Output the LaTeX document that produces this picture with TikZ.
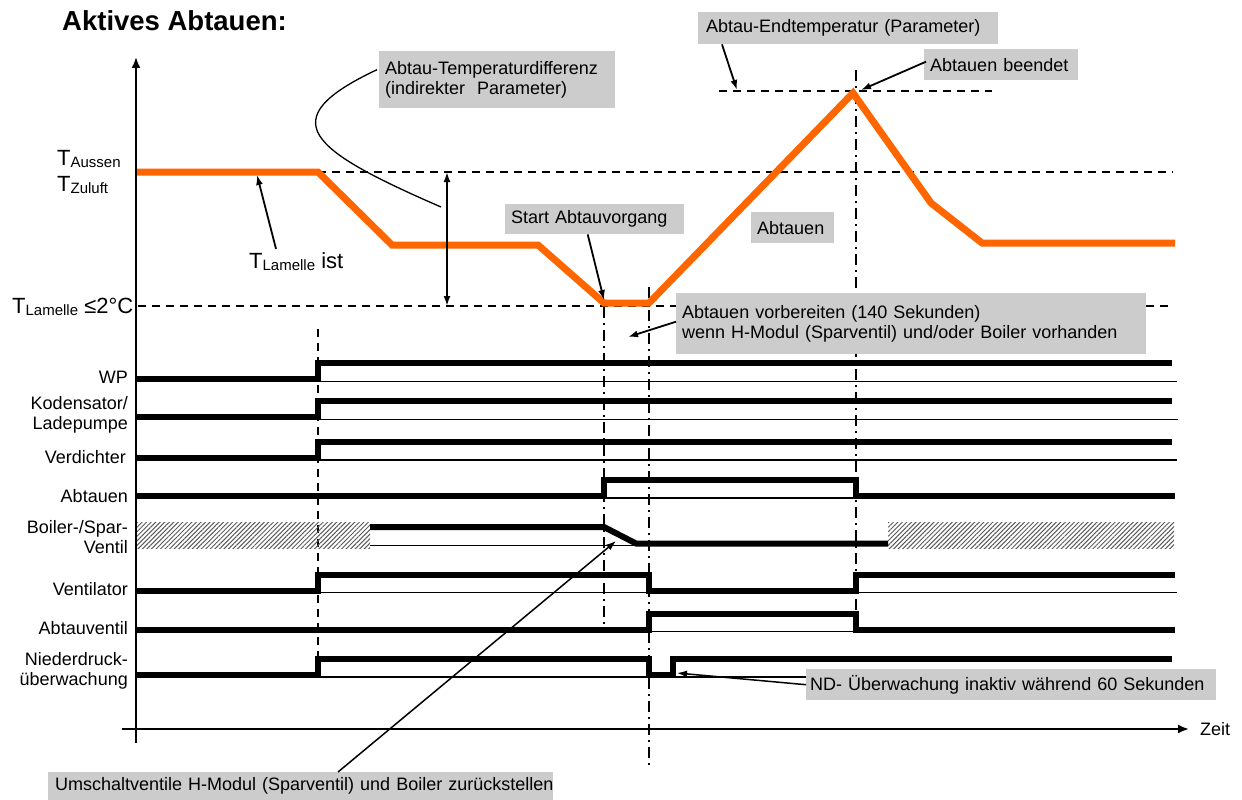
\documentclass[tikz,border=0pt]{standalone}
\usepackage{fontspec}
\setmainfont{Liberation Sans}
\usetikzlibrary{arrows.meta,patterns.meta,calc}
\definecolor{boxgray}{RGB}{204,204,204}
\definecolor{curveorange}{RGB}{255,102,0}
\definecolor{hatchgray}{RGB}{90,90,90}
% lowered, smaller index text (T_Aussen etc.)
\newcommand{\lowtxt}[1]{\raisebox{-2pt}{\fontsize{15}{15}\selectfont #1}}
% one unbroken line inside a fixed-width box
\newcommand{\oneline}[1]{\makebox[\linewidth][l]{#1}}
\begin{document}
\begin{tikzpicture}[x=1pt,y=-1pt,
  lbl/.style={font=\fontsize{18}{20.5}\selectfont, inner sep=0pt},
  tlbl/.style={font=\fontsize{22}{24}\selectfont, inner sep=0pt},
  graybox/.style={fill=boxgray, font=\fontsize{18}{20.5}\selectfont, anchor=north west,
    inner xsep=6pt, inner ysep=0pt, align=left},
  axis/.style={line width=2pt},
  guide/.style={line width=2pt, dash pattern=on 8pt off 6pt},
  guidethin/.style={line width=1.5pt, dash pattern=on 8pt off 6pt},
  dashdot/.style={line width=2pt, dash pattern=on 11pt off 5pt on 2pt off 5pt},
  curve/.style={line width=7pt, curveorange},
  sig/.style={line width=6pt, line join=miter},
  sigthin/.style={line width=1.2pt},
  hatch/.style={pattern={Lines[angle=45,distance=3.2pt,line width=1pt]}, pattern color=hatchgray},
  arr/.style={line width=1.8pt, -{Latex[length=10pt,width=7pt]}},
  leader/.style={line width=1.3pt}
]
\useasboundingbox (0,0) rectangle (1242,800);

% title
\node[anchor=base west, inner sep=0pt, font=\bfseries\fontsize{27.5}{30}\selectfont] (title) at (62,31) {Aktives Abtauen:};

% axes
\draw[axis, -{Latex[length=11pt,width=9pt]}] (136,743) -- (136,57);
\draw[axis, -{Latex[length=11pt,width=9pt]}] (122,729) -- (1189,729);
\node[lbl, anchor=base west] (zeit) at (1200,735) {Zeit};

% temperature levels
\draw[guide] (318,172) -- (1173,172);
\draw[guide] (138,306) -- (1173,306);
\draw[guide] (719,91) -- (992,91);

% time markers
\draw[guidethin] (318,329) -- (318,656);
\draw[dashdot] (604,307) -- (604,628);
\draw[dashdot] (649,287) -- (649,766);
\draw[dashdot] (856,70) -- (856,630);

% fin temperature
\draw[curve] (137,172) -- (318,172) -- (392,245) -- (538,245) -- (604,303) -- (649,303)
  -- (853,93) -- (931,203) -- (982,243) -- (1175,243);

% temperature labels
\node[tlbl, anchor=base west] (taussen) at (57,165) {T\lowtxt{Aussen}};
\node[tlbl, anchor=base west] (tzuluft) at (57,191) {T\lowtxt{Zuluft}};
\node[tlbl, anchor=base west] (tlamgr) at (12,313) {T\lowtxt{Lamelle} ≤2°C};
\node[tlbl, anchor=base west] (tlamist) at (249,268) {T\lowtxt{Lamelle} ist};

% signal labels
\node[lbl, anchor=base east] (wp) at (128,383) {WP};
\node[lbl, anchor=east, align=right] (lade) at (128,415) {Kodensator/\\Ladepumpe};
\node[lbl, anchor=base east] (verd) at (126,463) {Verdichter};
\node[lbl, anchor=base east] (abt) at (128,502) {Abtauen};
\node[lbl, anchor=east, align=right] (boiler) at (128,537) {Boiler-/Spar-\\Ventil};
\node[lbl, anchor=base east] (vent) at (128,595) {Ventilator};
\node[lbl, anchor=base east] (abtv) at (128,634) {Abtauventil};
\node[lbl, anchor=east, align=right] (nd) at (128,671) {Niederdruck-\\überwachung};

% signal traces
\draw[sigthin] (318,381.5) -- (1177,381.5);
\draw[sig] (137,379) -- (318,379) -- (318,363) -- (1172,363);
\draw[sigthin] (318,419.5) -- (1178,419.5);
\draw[sig] (137,417) -- (318,417) -- (318,401) -- (1172,401);
\draw[sigthin] (318,460) -- (1177,460);
\draw[sig] (137,458) -- (318,458) -- (318,442) -- (1172,442);
\draw[sigthin] (604,498) -- (856,498);
\draw[sig] (137,496) -- (604,496) -- (604,480) -- (856,480) -- (856,496) -- (1175,496);
\fill[hatch] (137,522) rectangle (370,548);
\fill[hatch] (888,522) rectangle (1174,548);
\draw[sigthin] (370,545.5) -- (888,545.5);
\draw[sig] (370,527) -- (604,527) -- (636,543.5) -- (888,543.5);
\draw[sigthin] (318,592.5) -- (1177,592.5);
\draw[sig] (137,590.5) -- (318,590.5) -- (318,574.5) -- (649,574.5) -- (649,590.5)
  -- (856,590.5) -- (856,574.5) -- (1175,574.5);
\draw[sigthin] (649,631.5) -- (856,631.5);
\draw[sig] (137,629.5) -- (649,629.5) -- (649,613.5) -- (856,613.5) -- (856,629.5) -- (1175,629.5);
\draw[sigthin] (318,677) -- (1177,677);
\draw[sig] (137,675) -- (318,675) -- (318,659) -- (649,659) -- (649,675) -- (673,675)
  -- (673,659) -- (1172,659);

% annotation boxes
\node[graybox, minimum height=57, text width=224] (diff) at (379,51)
  {\oneline{Abtau-Temperaturdifferenz}\\\oneline{(indirekter\ \ Parameter)}};
\node[graybox, inner xsep=8pt, minimum height=32, text width=284] (endt) at (698,12)
  {\oneline{Abtau-Endtemperatur (Parameter)}};
\node[graybox, minimum height=31, text width=142] (beendet) at (924,49) {\oneline{Abtauen beendet}};
\node[graybox, minimum height=30, text width=167] (start) at (505,204) {\oneline{Start Abtauvorgang}};
\node[graybox, minimum height=31, text width=71] (abtauen) at (751,212) {\oneline{Abtauen}};
\node[graybox, minimum height=61, text width=458] (vorb) at (676,293)
  {\oneline{Abtauen vorbereiten (140 Sekunden)}\\\oneline{wenn H-Modul (Sparventil) und/oder Boiler vorhanden}};
\node[graybox, inner xsep=4pt, minimum height=31, text width=402] (ndbox) at (806,669)
  {\oneline{ND- Überwachung inaktiv während 60 Sekunden}};
\node[graybox, inner xsep=7pt, minimum height=28, text width=491] (umsch) at (48,772)
  {\oneline{Umschaltventile H-Modul (Sparventil) und Boiler zurückstellen}};

% pointer targets
\coordinate (tl-tip) at (257,175);
\coordinate (diff-end) at (441,207);
\coordinate (dt-top) at (447,172);
\coordinate (dt-bot) at (447,306);
\coordinate (start-tip) at (604,300);
\coordinate (endt-tip) at (737,90);
\coordinate (beendet-tip) at (861,90);
\coordinate (vorb-tip) at (628,337);
\coordinate (nd-tip) at (677,673);
\coordinate (umsch-tip) at (616,541);

% pointers
\draw[arr] ($(tlamist.north west)+(27,-3)$) -- (tl-tip);
\draw[leader] ($(diff.west)+(-2,-10)$) .. controls (270,120) and (310,150) .. (diff-end);
\draw[line width=1.8pt, {Latex[length=10pt,width=7pt]}-{Latex[length=10pt,width=7pt]}] (dt-top) -- (dt-bot);
\draw[arr] ($(start.south)+(-7,0)$) -- (start-tip);
\draw[arr] ($(endt.south west)+(24,0)$) -- (endt-tip);
\draw[arr] ($(beendet.west)+(2,-3)$) -- (beendet-tip);
\draw[arr] ($(vorb.west)+(0,-2)$) -- (vorb-tip);
\draw[arr, line width=1.5pt] (ndbox.west) -- (nd-tip);
\draw[arr, line width=1.5pt] ($(umsch.north west)+(290,0)$) -- (umsch-tip);
\end{tikzpicture}
\end{document}
